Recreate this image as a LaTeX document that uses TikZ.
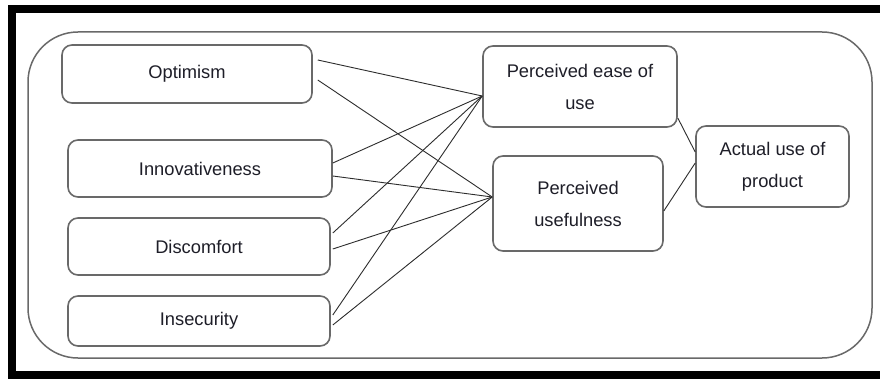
\documentclass[tikz,border=0pt]{standalone}
\usepackage{fontspec}
\setmainfont{Liberation Sans}
\definecolor{boxline}{RGB}{105,105,105}
\definecolor{conn}{RGB}{45,45,45}
\definecolor{txt}{RGB}{30,30,40}
\begin{document}
\begin{tikzpicture}[x=1pt,y=-1pt,
  box/.style={draw=boxline, line width=1.6pt, rounded corners=10pt, fill=white,
    align=center, text=txt, inner sep=0pt,
    font=\fontsize{18.3}{32}\selectfont},
  link/.style={draw=conn, line width=0.9pt}]
\clip (0,0) rectangle (880,385);
\fill[white] (0,0) rectangle (880,385);
% black frame (right side outside the picture)
\draw[black, line width=8pt] (12,9) rectangle (900,375);
% outer rounded container
\draw[boxline, line width=1.5pt, rounded corners=50pt] (28,32) rectangle (872,358);
% nodes
\node[box, minimum width=250pt, minimum height=58pt] (opt) at (187,74) {Optimism};
\node[box, minimum width=264pt, minimum height=57pt] (inn) at (200,168.5) {Innovativeness};
\node[box, minimum width=262pt, minimum height=57pt] (dis) at (199,246.5) {Discomfort};
\node[box, minimum width=262pt, minimum height=50pt] (ins) at (199,321) {Insecurity};
\node[box, minimum width=194pt, minimum height=81pt] (peou) at (580,86.5) {Perceived ease of\\use};
\node[box, minimum width=170pt, minimum height=95pt] (pu) at (578,203.5) {Perceived\\usefulness};
\node[box, minimum width=153pt, minimum height=81pt] (act) at (772.5,166.5) {Actual use of\\product};
% connectors to PEOU
\draw[link] ([shift={(5,-14)}]opt.east) -- ([shift={(0,9.5)}]peou.west);
\draw[link] ([shift={(0,-5.5)}]inn.east) -- ([shift={(0,9.5)}]peou.west);
\draw[link] ([shift={(2,-13.5)}]dis.east) -- ([shift={(0,9.5)}]peou.west);
\draw[link] ([shift={(2,-6)}]ins.east) -- ([shift={(0,9.5)}]peou.west);
% connectors to PU
\draw[link] ([shift={(5,6)}]opt.east) -- ([shift={(0,-6.5)}]pu.west);
\draw[link] ([shift={(0,7.5)}]inn.east) -- ([shift={(0,-6.5)}]pu.west);
\draw[link] ([shift={(2,2.5)}]dis.east) -- ([shift={(0,-6.5)}]pu.west);
\draw[link] ([shift={(2,4)}]ins.east) -- ([shift={(0,-6.5)}]pu.west);
% to actual use
\draw[link] ([shift={(0,31.5)}]peou.east) -- ([shift={(0,-14.5)}]act.west);
\draw[link] ([shift={(0,7.5)}]pu.east) -- ([shift={(0,-3.5)}]act.west);
\end{tikzpicture}
\end{document}
